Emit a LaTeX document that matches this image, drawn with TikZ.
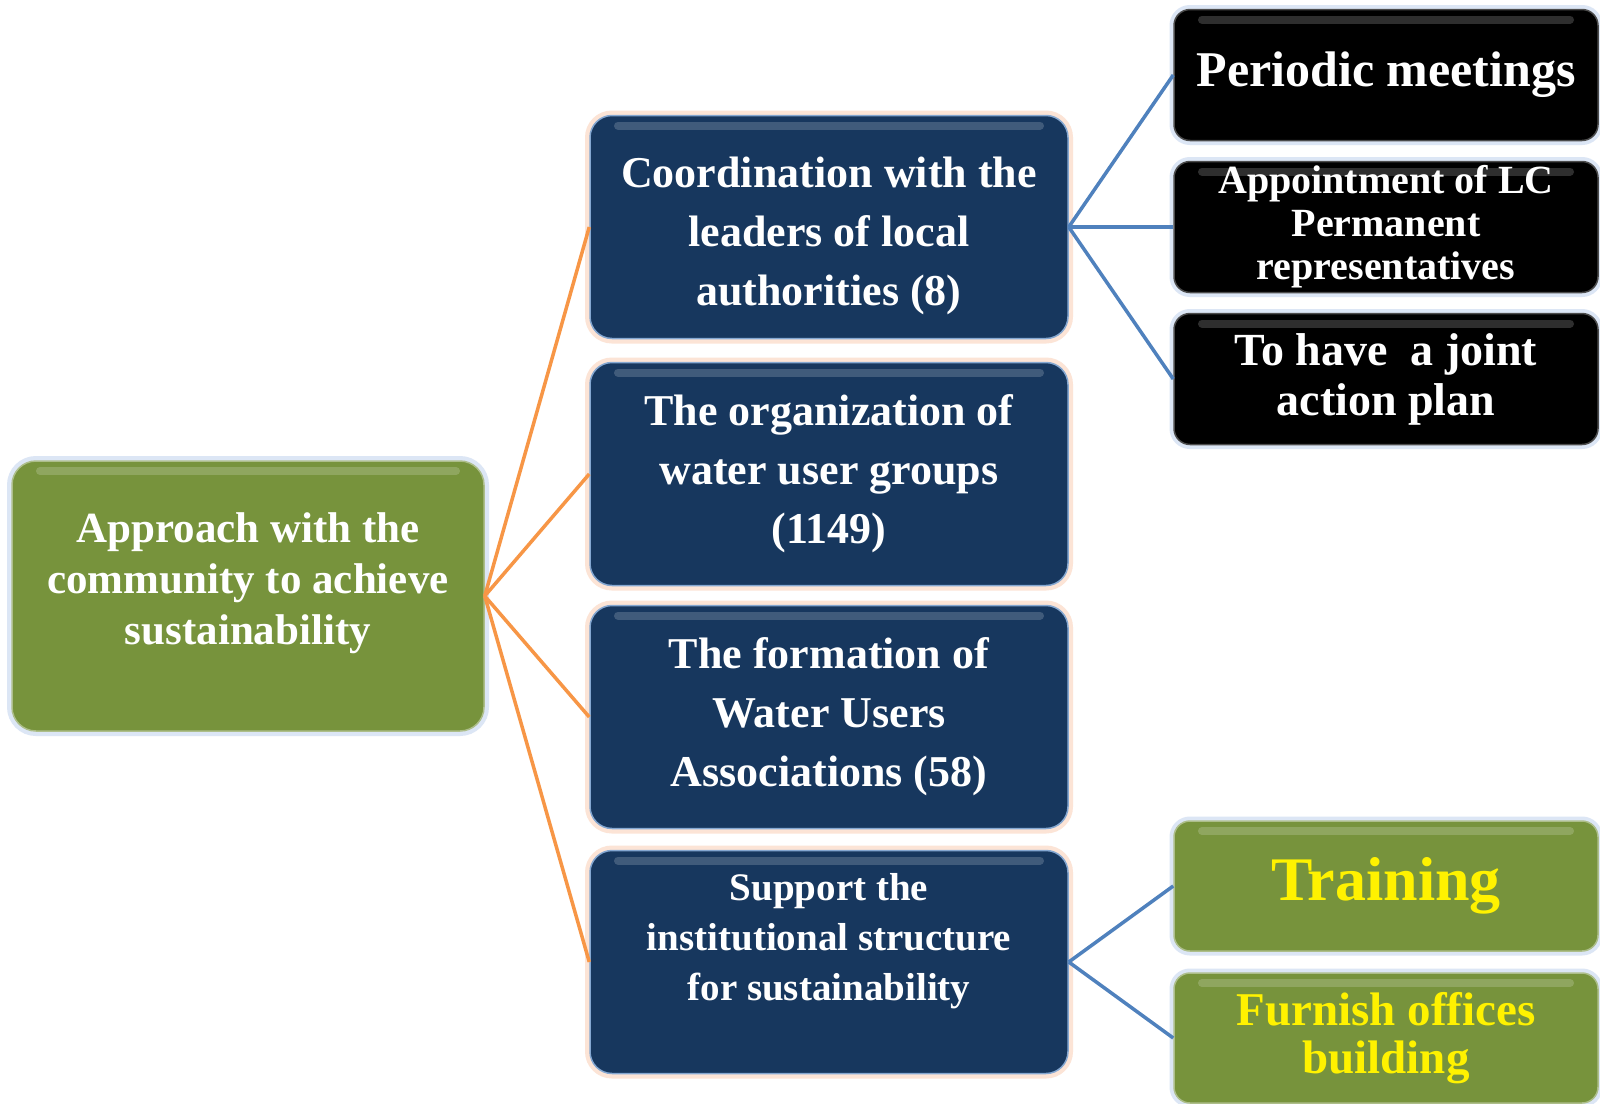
\documentclass[tikz,border=0pt]{standalone}
\usepackage{fontspec}
\setmainfont{Liberation Serif}

\definecolor{boxnavy}{HTML}{17375E}
\definecolor{boxgreen}{HTML}{77933C}
\definecolor{lineorange}{HTML}{F79646}
\definecolor{lineblue}{HTML}{4F81BD}
\definecolor{glowblue}{HTML}{DCE6F5}
\definecolor{gloworange}{HTML}{FCE4D6}

\begin{document}
\begin{tikzpicture}[x=1pt, y=-1pt,
            every node/.style={align=center, inner sep=0pt, text=white},
            gloss/.style={path picture={\draw[white, opacity=.18, line width=8pt, line cap=round]
                ([xshift=28pt, yshift=-10pt]path picture bounding box.north west) --
                ([xshift=-28pt, yshift=-10pt]path picture bounding box.north east);}},
            rootbox/.style={fill=boxgreen, draw=boxgreen!60!white, line width=1.5pt, gloss,
                rounded corners=24pt, minimum width=472pt, minimum height=270pt,
                preaction={draw=glowblue, line width=10pt}},
            coordbox/.style={fill=boxnavy, draw=lineblue!70!white, line width=1.5pt, gloss,
                rounded corners=22pt, minimum width=478pt, minimum height=223pt,
                font=\bfseries\fontsize{44}{59}\selectfont,
                preaction={draw=gloworange, line width=10pt}},
            actionbox/.style={fill=black, draw=black!70!white, line width=1.5pt, gloss,
                rounded corners=16pt, minimum width=424pt, minimum height=131pt,
                preaction={draw=glowblue, line width=9pt}},
            supportleaf/.style={fill=boxgreen, draw=boxgreen!60!white, line width=1.5pt, gloss,
                rounded corners=16pt, minimum width=424pt, minimum height=130pt,
                text=yellow, preaction={draw=glowblue, line width=9pt}},
            rootlink/.style={draw=lineorange, line width=3.5pt},
            leaflink/.style={draw=lineblue, line width=3.5pt}]
        \useasboundingbox[fill=white] (0,0) rectangle (1600,1103);

        % root
        \node[rootbox, label={[font=\bfseries\fontsize{43}{51}\selectfont, yshift=13pt]center:{Approach with the\\community to achieve\\sustainability}}] (approach) at (248,596) {};

        % second level
        \node[coordbox, label={[font=\bfseries\fontsize{44}{59}\selectfont, yshift=-9pt]center:{Coordination with the\\leaders of local\\authorities (8)}}] (leaders) at (829,227) {};
        \node[coordbox] (groups) at (829,474) {The organization of\\water user groups\\(1149)};
        \node[coordbox] (assoc) at (829,717) {The formation of\\Water Users\\Associations (58)};
        \node[coordbox, label={[font=\bfseries\fontsize{39}{50}\selectfont, yshift=21pt]center:{Support the\\institutional structure\\for sustainability}}] (support) at (829,962) {};

        % leaves
        \node[actionbox, font=\bfseries\fontsize{50}{58}\selectfont] (meetings) at (1386,75) {Periodic meetings};
        \node[actionbox, font=\bfseries\fontsize{40}{43}\selectfont] (represent) at (1386,227) {Appointment of LC\\Permanent\\representatives};
        \node[actionbox, font=\bfseries\fontsize{46}{50}\selectfont] (plan) at (1386,379) {To have\ \ a joint\\action plan};
        \node[supportleaf, font=\bfseries\fontsize{62}{70}\selectfont] (training) at (1386,886) {Training};
        \node[supportleaf, font=\bfseries\fontsize{47}{48}\selectfont] (furnish) at (1386,1038) {Furnish offices\\building};

        % connectors
        \foreach \n in {leaders, groups, assoc, support}
            \path[rootlink] (approach.east) -- (\n.west);
        \foreach \n in {meetings, represent, plan}
            \path[leaflink] (leaders.east) -- (\n.west);
        \foreach \n in {training, furnish}
            \path[leaflink] (support.east) -- (\n.west);
\end{tikzpicture}
\end{document}
